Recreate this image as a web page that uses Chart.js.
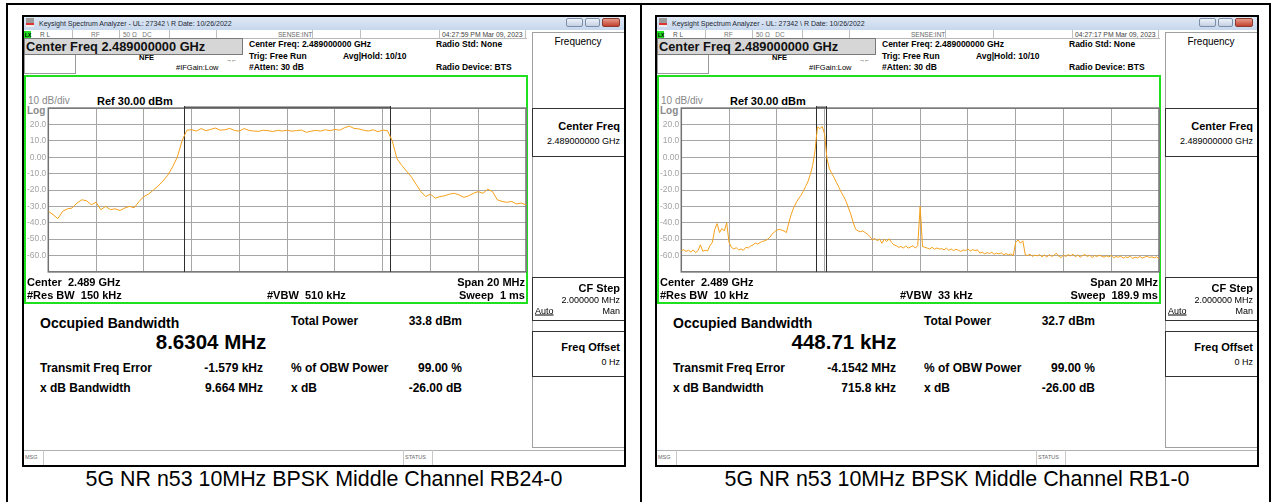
<!DOCTYPE html>
<html>
<head>
<meta charset="utf-8">
<script src="https://cdn.jsdelivr.net/npm/chart.js"></script>
<style>
body{margin:0;width:1275px;height:502px;background:#fff;position:relative;overflow:hidden;font-family:"Liberation Sans",Arial,sans-serif;color:#000}
.line{position:absolute;background:#000}
.shot{position:absolute;top:15px;width:604px;height:452px;background:#fff}
.bd{position:absolute;left:0;top:0;right:0;bottom:0;border:2px solid #000;z-index:20;pointer-events:none}
.t{position:absolute;white-space:pre;line-height:1;transform:translateY(-50%)}
.t.r{transform:translate(-100%,-50%)}
.t.c{transform:translate(-50%,-50%)}
.b{font-weight:bold}
.box{position:absolute;box-sizing:border-box}
.caption{position:absolute;top:480px;font-size:21.4px;white-space:nowrap;transform:translate(-50%,-50%);line-height:1}
canvas{position:absolute}
</style>
</head>
<body>
<div class="line" style="left:6px;top:3px;width:1265px;height:2px"></div>
<div class="line" style="left:6px;top:3px;width:2px;height:499px"></div>
<div class="line" style="left:640px;top:3px;width:2px;height:499px"></div>
<div class="line" style="left:1269px;top:3px;width:2px;height:499px"></div>
<div id="shotL" class="shot" style="left:22px"></div>
<div id="shotR" class="shot" style="left:655px"></div>
<div class="caption" style="left:324px">5G NR n53 10MHz BPSK Middle Channel RB24-0</div>
<div class="caption" style="left:957px">5G NR n53 10MHz BPSK Middle Channel RB1-0</div>
<script>
// spectrum traces, dBm, one value per sweep bucket
const leftStartMHz = -10, leftStepMHz = 0.2;
const leftLevel = [
  -33, -35, -37.5, -33, -31.5, -31, -28, -26, -26.5, -29,
  -27.5, -32, -30, -32, -31.5, -32.5, -31, -30, -30.8, -27,
  -24, -22.5, -20, -17.5, -14.5, -11, -6, 0, 10, 16.5,
  16.8, 16, 17.5, 16.2, 17, 17.8, 16.5, 16.8, 17.6, 16.3,
  16, 17.5, 16.4, 16, 15.8, 16.5, 16.2, 15.7, 16.4, 16,
  16.5, 15.9, 16.3, 16.6, 15.2, 15.9, 16.4, 16, 16.8, 16.2,
  17, 16.5, 18, 19, 17.6, 17.3, 16.5, 16, 16.8, 15.6,
  16.6, 16.2, 10, -1, -5, -8.5, -12, -16.5, -21, -24,
  -22.5, -25, -24, -23.5, -22.5, -22, -23, -24.5, -23.5, -22,
  -21, -22, -19.5, -21, -26, -27, -27.5, -27, -28.5, -28,
  -29
];
const rightStartMHz = -10, rightStepMHz = 0.1;
const rightLevel = [
  -57, -56.5, -57.5, -56.8, -57.8, -56.6, -58.2, -57, -53.5, -57.4, -56.8, -57.2,
  -54, -52, -44, -40.5, -46, -43.5, -45, -40, -52,
  -55, -56, -55.2, -56.6, -56, -56.8, -55, -55.4, -54.2, -53.6,
  -52.4, -53, -52, -51.4, -51, -50.2, -49, -47, -45.5, -44.5,
  -44, -44.5, -45, -46, -40, -35, -31, -28, -25.5, -23.5,
  -21, -18, -15, -10.5, -5, 4, 18.5, 17.5, 18.8, 14,
  -1, -7, -10, -12.5, -15.5, -18.5, -21.5, -24, -27, -31,
  -35, -40, -44, -45, -45.5, -45, -46, -47, -48.5, -50.5,
  -49.5, -51, -50, -52.5, -50, -51.5, -49.8, -52, -53.5, -54,
  -55, -54.5, -55.5, -54, -55.5, -54.8, -54, -55.5, -53.8, -30,
  -54.5, -55, -55.5, -56, -55, -56.2, -55.4, -56, -55.8, -56.5,
  -55.5, -56.8, -56, -57, -56.2, -56.8, -57.5, -56.6, -57, -56,
  -57.2, -56.4, -57, -56.5, -58.5, -58, -59, -58.2, -58.8, -58,
  -59.2, -58.6, -59, -58.4, -59.5, -58.8, -59.6, -59, -60, -52,
  -50.5, -52.5, -51, -59.5, -60, -59.2, -60.5, -59.8, -60.2, -59.5,
  -60.8, -59.6, -61, -59.4, -60.5, -60, -58.5, -60.4, -61.2, -59.8,
  -60.6, -59.4, -60.2, -59.2, -60.8, -59.6, -61, -60, -59.4, -60.6,
  -59.8, -61.2, -60, -60.6, -59.8, -60.4, -61, -60.2, -60.8, -60,
  -61.4, -60.6, -61, -60.4, -61.6, -60.8, -61.2, -60.4, -61.8, -61,
  -61.4, -60.6, -61.6, -61, -60.4, -61.2, -60.8, -61.4, -60.8, -62
];

// occupied bandwidth results (MHz) used for the marker lines
const leftObwMHz = 8.6304, leftTxErrMHz = -0.001579;
const rightObwMHz = 0.44871, rightTxErrMHz = -4.1542;

// y axis labels, ref 30 dBm, 10 dB/div
const yTickValues = [20, 10, 0, -10, -20, -30, -40, -50, -60];
const yTickLabels = ['20.0', '10.0', '0.00', '-10.0', '-20.0', '-30.0', '-40.0', '-50.0', '-60.0'];

// screen texts
const leftSetup = ['#Res BW  150 kHz', '#VBW  510 kHz', 'Sweep  1 ms'];
const rightSetup = ['#Res BW  10 kHz', '#VBW  33 kHz', 'Sweep  189.9 ms'];
const leftResults = ['8.6304 MHz', '33.8 dBm', '-1.579 kHz', '99.00 %', '9.664 MHz', '-26.00 dB'];
const rightResults = ['448.71 kHz', '32.7 dBm', '-4.1542 MHz', '99.00 %', '715.8 kHz', '-26.00 dB'];
const leftTime = '04:27:59 PM Mar 09, 2023';
const rightTime = '04:27:17 PM Mar 09, 2023';

const traceColor = '#f5a01a';
const gridColor = '#a6a6a6';

function t(x, y, s, cls, style) {
  return `<div class="t ${cls || ''}" style="left:${x}px;top:${y}px;${style || ''}">${s}</div>`;
}
function box(x, y, w, h, style) {
  return `<div class="box" style="left:${x}px;top:${y}px;width:${w}px;height:${h}px;${style || ''}"></div>`;
}

function buildShot(el, setup, results, time) {
  let h = '';
  // title bar
  h += box(0, 0, 604, 15, 'background:linear-gradient(#e3ecf7,#c6d6ec)');
  h += box(4, 3, 8, 9, 'background:linear-gradient(#9a9a9a 0,#9a9a9a 60%,#d33 60%,#d33 80%,#eee 80%)');
  h += t(17, 8, 'Keysight Spectrum Analyzer - UL: 27342 \\ R Date: 10/26/2022', '', 'font-size:7px;color:#1c2733');
  h += box(544, 3, 17, 9, 'background:linear-gradient(#eef3fa,#c3d0e2);border:1px solid #7d8ea8;border-radius:2px');
  h += box(563, 3, 15, 9, 'background:linear-gradient(#eef3fa,#c3d0e2);border:1px solid #7d8ea8;border-radius:2px');
  h += box(580, 3, 18, 9, 'background:linear-gradient(#e89a8a,#c2402f);border:1px solid #8b3a30;border-radius:2px');
  // status row
  h += box(0, 15, 505, 9, 'border-bottom:1px solid #b8b8b8');
  h += box(2, 16, 7, 7, 'background:#22dd22');
  h += t(3, 20, 'LX', 'b', 'font-size:5px');
  [50, 97, 147, 194, 290, 338, 417, 503].forEach(x => { h += box(x, 15, 1, 9, 'background:#c0c0c0'); });
  h += t(18, 20, 'R L', '', 'font-size:6.5px;color:#555');
  h += t(69, 20, 'RF', '', 'font-size:6.5px;color:#777');
  h += t(101, 20, '50 Ω   DC', '', 'font-size:6.5px;color:#777');
  h += t(256, 20, 'SENSE:INT', '', 'font-size:6.5px;color:#666');
  h += t(420, 20, time, '', 'font-size:6.8px;color:#444');
  // center freq box
  h += box(2, 23, 219, 17, 'background:#d6d6d6;border:1px solid #7a7a7a');
  h += t(4, 31.5, 'Center Freq 2.489000000 GHz', 'b', 'font-size:12.8px;color:#111');
  h += box(2, 40, 52, 19, 'border:1px solid #9a9a9a;border-top:none');
  h += t(117, 43, 'NFE', 'b', 'font-size:7.5px');
  h += t(204, 45, '→←', '', 'font-size:6px;letter-spacing:-1px');
  h += t(154, 52.5, '#IFGain:Low', '', 'font-size:7.5px');
  h += t(227, 29, 'Center Freq: 2.489000000 GHz', 'b', 'font-size:8.5px');
  h += t(227, 41, 'Trig: Free Run', 'b', 'font-size:8.5px');
  h += t(321, 41, 'Avg|Hold: 10/10', 'b', 'font-size:8.5px');
  h += t(227, 51.5, '#Atten: 30 dB', 'b', 'font-size:8.5px');
  h += t(414, 29, 'Radio Std: None', 'b', 'font-size:8.5px');
  h += t(414, 51.5, 'Radio Device: BTS', 'b', 'font-size:8.5px');
  // graph frame
  h += box(2, 60, 504, 229, 'border:2px solid #1fe01f');
  h += t(6, 86, '10 dB/div', '', 'font-size:10px;color:#888');
  h += t(75, 86, 'Ref 30.00 dBm', 'b', 'font-size:11px');
  h += t(5, 95.5, 'Log', 'b', 'font-size:10px;color:#8a8a8a');
  h += '<canvas width="502" height="178" style="left:4px;top:86px"></canvas>';
  h += t(5, 267, 'Center  2.489 GHz', 'b', 'font-size:11px');
  h += t(5, 280, setup[0], 'b', 'font-size:11px');
  h += t(245, 280, setup[1], 'b', 'font-size:11px');
  h += t(503, 267, 'Span 20 MHz', 'b r', 'font-size:11px');
  h += t(503, 280, setup[2], 'b r', 'font-size:11px');
  // results
  h += t(18, 307.5, 'Occupied Bandwidth', 'b', 'font-size:14px');
  h += t(189, 327, results[0], 'b c', 'font-size:20.5px');
  h += t(269, 305.5, 'Total Power', 'b', 'font-size:12px');
  h += t(440, 305.5, results[1], 'b r', 'font-size:12px');
  h += t(18, 352.5, 'Transmit Freq Error', 'b', 'font-size:12px');
  h += t(241, 352.5, results[2], 'b r', 'font-size:12px');
  h += t(269, 352.5, '% of OBW Power', 'b', 'font-size:12px');
  h += t(440, 352.5, results[3], 'b r', 'font-size:12px');
  h += t(18, 372.5, 'x dB Bandwidth', 'b', 'font-size:12px');
  h += t(241, 372.5, results[4], 'b r', 'font-size:12px');
  h += t(269, 372.5, 'x dB', 'b', 'font-size:12px');
  h += t(440, 372.5, results[5], 'b r', 'font-size:12px');
  // softkey panel
  h += box(510, 17, 92, 416, 'border:1px solid #a0a0a0;border-right:none');
  h += t(556, 27, 'Frequency', 'c', 'font-size:10px');
  h += box(510, 93, 92, 49, 'border:1px solid #333;border-right:none');
  h += t(598, 111, 'Center Freq', 'b r', 'font-size:11px');
  h += t(598, 126, '2.489000000 GHz', 'r', 'font-size:9px');
  h += box(510, 262, 92, 44, 'border:1px solid #333;border-right:none');
  h += t(598, 273, 'CF Step', 'b r', 'font-size:11px');
  h += t(598, 284.5, '2.000000 MHz', 'r', 'font-size:9px');
  h += t(513, 296, 'Auto', '', 'font-size:9px;text-decoration:underline');
  h += t(598, 296, 'Man', 'r', 'font-size:9px');
  h += box(510, 316, 92, 46, 'border:1px solid #333;border-right:none');
  h += t(598, 332, 'Freq Offset', 'b r', 'font-size:11px');
  h += t(598, 347, '0 Hz', 'r', 'font-size:9px');
  // message bar
  h += box(0, 435, 604, 16, 'border-top:1px solid #b0b0b0');
  h += box(21, 435, 1, 16, 'background:#c8c8c8');
  h += box(381, 435, 1, 16, 'background:#c8c8c8');
  h += box(410, 435, 1, 16, 'background:#c8c8c8');
  h += t(3, 442.5, 'MSG', '', 'font-size:5.5px;color:#666');
  h += t(383, 442.5, 'STATUS', '', 'font-size:5.5px;color:#666');
  h += '<div class="bd"></div>';
  el.innerHTML = h;
  return el.querySelector('canvas');
}

const obwPlugin = {
  id: 'obwMarkers',
  beforeDatasetsDraw(chart, args, opts) {
    const a = chart.chartArea, x = chart.scales.x, ctx = chart.ctx;
    const x1 = Math.round(x.getPixelForValue(opts.lo)) + 0.5;
    const x2 = Math.round(x.getPixelForValue(opts.hi)) + 0.5;
    ctx.save();
    ctx.strokeStyle = '#727272';
    ctx.lineWidth = 1.5;
    ctx.strokeRect(a.left, a.top, a.right - a.left, a.bottom - a.top);
    ctx.strokeStyle = '#2e2e2e';
    ctx.lineWidth = 1;
    ctx.beginPath();
    ctx.moveTo(x1, a.top - 2); ctx.lineTo(x1, a.bottom);
    ctx.moveTo(x2, a.top - 2); ctx.lineTo(x2, a.bottom);
    ctx.moveTo(x1, a.top - 1); ctx.lineTo(x2, a.top - 1);
    ctx.stroke();
    ctx.restore();
  }
};

function makeChart(canvas, levels, startMHz, stepMHz, obw, txErr) {
  const pts = levels.map((v, i) => ({ x: startMHz + i * stepMHz, y: v }));
  return new Chart(canvas, {
    type: 'line',
    data: { datasets: [{ data: pts, borderColor: traceColor, borderWidth: 1, pointRadius: 0, tension: 0, fill: false }] },
    options: {
      responsive: false,
      animation: false,
      events: [],
      layout: { padding: { left: 0, top: 5.6, right: 2, bottom: 5 } },
      plugins: {
        legend: { display: false },
        tooltip: { enabled: false },
        obwMarkers: { lo: txErr - obw / 2, hi: txErr + obw / 2 }
      },
      scales: {
        x: {
          type: 'linear', min: -10, max: 10,
          ticks: { display: false, stepSize: 2 },
          grid: { color: gridColor, lineWidth: 1, drawTicks: false },
          border: { display: false },
          afterFit: s => { s.height = 0; }
        },
        y: {
          min: -70, max: 30,
          ticks: {
            stepSize: 10, padding: 2, color: '#a3a3a3',
            font: { family: 'Liberation Sans', size: 8.5 },
            callback: v => { const i = yTickValues.indexOf(v); return i < 0 ? '' : yTickLabels[i]; }
          },
          grid: { color: gridColor, lineWidth: 1, drawTicks: false },
          border: { display: false },
          afterFit: s => { s.width = 22.3; }
        }
      }
    },
    plugins: [obwPlugin]
  });
}

const cL = buildShot(document.getElementById('shotL'), leftSetup, leftResults, leftTime);
const cR = buildShot(document.getElementById('shotR'), rightSetup, rightResults, rightTime);
makeChart(cL, leftLevel, leftStartMHz, leftStepMHz, leftObwMHz, leftTxErrMHz);
makeChart(cR, rightLevel, rightStartMHz, rightStepMHz, rightObwMHz, rightTxErrMHz);
</script>
</body>
</html>
